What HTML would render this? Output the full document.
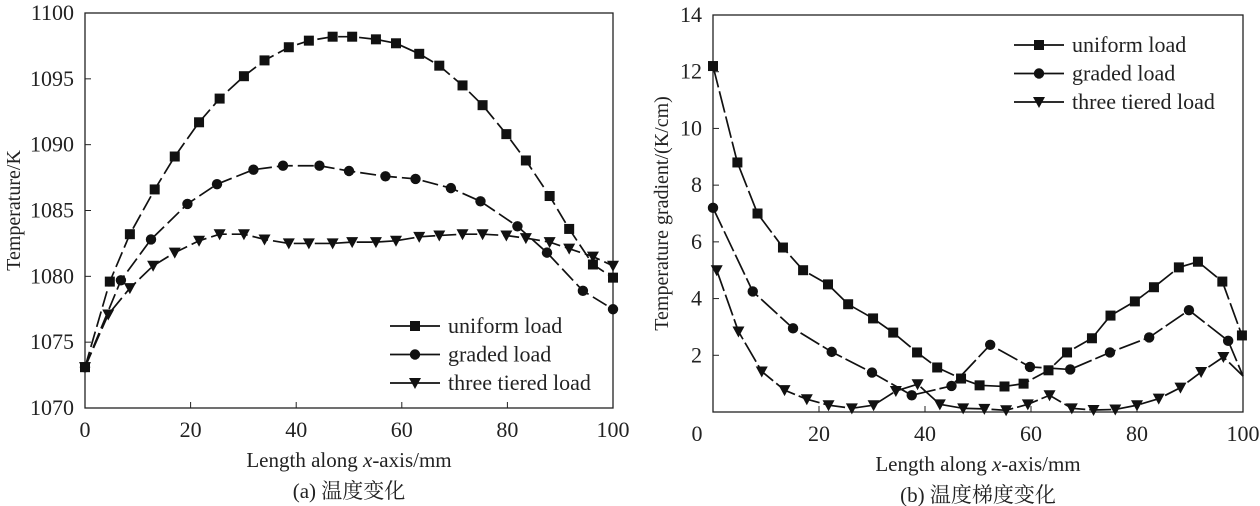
<!DOCTYPE html>
<html><head><meta charset="utf-8"><style>
html,body{margin:0;padding:0;background:#fff}
svg{display:block}
</style></head><body>
<svg id="c" width="1260" height="506" viewBox="0 0 1260 506" xmlns="http://www.w3.org/2000/svg" font-family="'Liberation Serif','Noto Serif CJK SC',serif"></svg>
<script>
const NS="http://www.w3.org/2000/svg";
// ---- Chart (a) data ----
const aXTicks=[0,20,40,60,80,100];
const aYTicks=[1070,1075,1080,1085,1090,1095,1100];
const aUniX=[0,4.7,8.5,13.2,17.0,21.6,25.5,30.1,34.0,38.6,42.4,46.9,50.6,55.1,58.9,63.3,67.1,71.5,75.3,79.8,83.5,88.0,91.7,96.2,100];
const aUniY=[1073.1,1079.6,1083.2,1086.6,1089.1,1091.7,1093.5,1095.2,1096.4,1097.4,1097.9,1098.2,1098.2,1098.0,1097.7,1096.9,1096.0,1094.5,1093.0,1090.8,1088.8,1086.1,1083.6,1080.9,1079.9];
const aGrdX=[0,6.8,12.5,19.4,25.0,31.9,37.5,44.4,50.0,56.9,62.6,69.3,74.9,81.9,87.5,94.3,100];
const aGrdY=[1073.1,1079.7,1082.8,1085.5,1087.0,1088.1,1088.4,1088.4,1088.0,1087.6,1087.4,1086.7,1085.7,1083.8,1081.8,1078.9,1077.5];
const aTriX=[0,4.4,8.5,12.9,17.0,21.6,25.5,30.1,34.0,38.6,42.4,46.9,50.6,55.1,58.9,63.3,67.1,71.5,75.3,79.8,83.5,88.0,91.7,96.2,100];
const aTriY=[1073.1,1077.1,1079.1,1080.8,1081.8,1082.7,1083.2,1083.2,1082.8,1082.5,1082.5,1082.5,1082.6,1082.6,1082.7,1083.0,1083.1,1083.2,1083.2,1083.1,1082.9,1082.6,1082.1,1081.5,1080.8];
// ---- Chart (b) data ----
const bXTicks=[20,40,60,80,100];
const bYTicks=[2,4,6,8,10,12,14];
const bUniX=[0,4.6,8.4,13.2,17.0,21.7,25.5,30.2,34.0,38.5,42.3,46.8,50.3,55.0,58.6,63.3,66.8,71.5,75.0,79.6,83.2,87.9,91.5,96.1,99.8];
const bUniY=[12.2,8.8,7.0,5.8,5.0,4.5,3.8,3.3,2.8,2.1,1.57,1.18,0.94,0.9,1.0,1.47,2.1,2.6,3.4,3.9,4.4,5.1,5.3,4.6,2.7];
const bGrdX=[0,7.5,15.1,22.4,30.0,37.5,45.0,52.3,59.8,67.4,74.9,82.3,89.8,97.2];
const bGrdY=[7.2,4.25,2.95,2.12,1.39,0.59,0.92,2.37,1.59,1.5,2.1,2.63,3.59,2.51];
const bTriX=[0.7,4.8,9.2,13.5,17.7,21.8,26.2,30.3,34.5,38.6,42.8,47.2,51.2,55.3,59.4,63.5,67.7,71.8,75.9,80.0,84.1,88.2,92.1,96.3];
const bTriY=[5.0,2.84,1.43,0.77,0.45,0.24,0.13,0.24,0.74,0.98,0.27,0.13,0.11,0.06,0.27,0.59,0.13,0.07,0.09,0.24,0.47,0.86,1.41,1.94];
// line tails at x=100 (no marker)
const bGrdTailX=[100];
const bGrdTailY=[1.27];
const bTriTailX=[100];
const bTriTailY=[1.27];

const svg=document.getElementById('c');
function el(tag,attrs,parent){const e=document.createElementNS(NS,tag);for(const k in attrs)e.setAttribute(k,attrs[k]);(parent||svg).appendChild(e);return e;}
function txt(s,x,y,size,anchor,parent){const t=el('text',{x:x,y:y,'font-size':size,'text-anchor':anchor||'middle',fill:'#222'},parent);t.textContent=s;return t;}
function marker(kind,x,y,g){
  if(kind==='sq')return el('rect',{x:x-5,y:y-5,width:10,height:10,fill:'#111'},g);
  if(kind==='ci')return el('circle',{cx:x,cy:y,r:5.2,fill:'#111'},g);
  return el('polygon',{points:`${x-6},${y-5} ${x+6},${y-5} ${x},${y+6}`,fill:'#111'},g);
}
function chart(o){
  const sx=v=>o.x0+(v-o.xmin)/(o.xmax-o.xmin)*(o.x1-o.x0);
  const sy=v=>o.y1-(v-o.ymin)/(o.ymax-o.ymin)*(o.y1-o.y0);
  const g=el('g',{});
  
  
  const frame=el('rect',{x:o.x0,y:o.y0,width:o.x1-o.x0,height:o.y1-o.y0,fill:'none',stroke:'#222','stroke-width':1.3},g);
  
  
  o.xt.forEach(v=>{
    el('line',{x1:sx(v),x2:sx(v),y1:o.y1,y2:o.y1-6,stroke:'#222'},g);
    const t=txt(String(v),sx(v),o.y1+29,22,'middle',g);
    
    
  });
  o.yt.forEach(v=>{
    el('line',{x1:o.x0,x2:o.x0+6,y1:sy(v),y2:sy(v),stroke:'#222'},g);
    const t=txt(String(v),o.x0-11,sy(v)+7,22,'end',g);
    
    
  });
  o.series.forEach(s=>{
    const sg=el('g',{},g);
    
    
    const xs=s.x.concat(s.tx||[]), ys=s.y.concat(s.ty||[]);
    const pts=xs.map((v,i)=>sx(v)+','+sy(ys[i])).join(' ');
    el('polyline',{points:pts,fill:'none',stroke:'#111','stroke-width':1.7,'stroke-dasharray':o.dash},sg);
    s.x.forEach((v,i)=>marker(s.m,sx(v),sy(s.y[i]),sg));
  });
  const lg=el('g',{},g);
  
  
  o.series.forEach((s,i)=>{
    const y=o.ly+i*28.5;
    const e=el('g',{},lg);
    
    
    el('line',{x1:o.lx,x2:o.lx+50,y1:y,y2:y,stroke:'#111','stroke-width':1.8},e);
    marker(s.m,o.lx+25,y,e);
    txt(s.label,o.lx+58,y+7,22,'start',e);
  });
  const xt=txt('',(o.x0+o.x1)/2,o.y1+59,21,'middle',g);
  xt.innerHTML='Length along <tspan font-style="italic">x</tspan>-axis/mm';
  
  
  const cap=txt(o.caption,(o.x0+o.x1)/2,o.y1+90,21,'middle',g);
  
  
  const yt=txt(o.ytitle,0,0,20,'middle',g);
  yt.setAttribute('transform',`translate(${o.ytx},${(o.y0+o.y1)/2}) rotate(-90)`);
  
  
  return g;
}
chart({name:'temperature-chart',x0:85,x1:613,y0:13,y1:408,xmin:0,xmax:100,ymin:1070,ymax:1100,
  xt:aXTicks,yt:aYTicks,dash:'16 5',lx:390,ly:326,ytx:20,
  caption:'(a) 温度变化',ytitle:'Temperature/K',
  series:[{name:'uniform-load-series',label:'uniform load',m:'sq',x:aUniX,y:aUniY},
          {name:'graded-load-series',label:'graded load',m:'ci',x:aGrdX,y:aGrdY},
          {name:'three-tiered-load-series',label:'three tiered load',m:'tr',x:aTriX,y:aTriY}]});
chart({name:'gradient-chart',x0:713,x1:1243,y0:15,y1:412,xmin:0,xmax:100,ymin:0,ymax:14,
  xt:bXTicks,yt:bYTicks,dash:'22 4',lx:1014,ly:45,ytx:668,
  caption:'(b) 温度梯度变化',ytitle:'Temperature gradient/(K/cm)',
  series:[{name:'uniform-load-series',label:'uniform load',m:'sq',x:bUniX,y:bUniY},
          {name:'graded-load-series',label:'graded load',m:'ci',x:bGrdX,y:bGrdY,tx:bGrdTailX,ty:bGrdTailY},
          {name:'three-tiered-load-series',label:'three tiered load',m:'tr',x:bTriX,y:bTriY,tx:bTriTailX,ty:bTriTailY}]});
const z=txt('0',697,441,22,'middle');


</script>
</body></html>
